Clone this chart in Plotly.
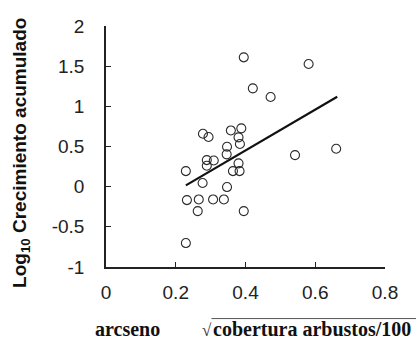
import plotly.graph_objects as go

# Data
cover_x = [0.395, 0.581, 0.421, 0.472, 0.278, 0.294, 0.358, 0.388, 0.380, 0.384,
           0.347, 0.346, 0.289, 0.309, 0.289, 0.380, 0.364, 0.383, 0.229, 0.277,
           0.347, 0.232, 0.266, 0.307, 0.338, 0.263, 0.395, 0.229, 0.660, 0.542]
growth_y = [1.61, 1.527, 1.224, 1.116, 0.659, 0.618, 0.70, 0.726, 0.614, 0.531,
            0.497, 0.402, 0.331, 0.326, 0.26, 0.29, 0.194, 0.194, 0.194, 0.045,
            -0.005, -0.167, -0.159, -0.159, -0.159, -0.304, -0.304, -0.702, 0.472, 0.393]
fit_x = [0.229, 0.663]
fit_y = [0.016, 1.12]
x_ticks = [0, 0.2, 0.4, 0.6, 0.8]
x_tick_labels = ["0", "0.2", "0.4", "0.6", "0.8"]
y_ticks = [-1, -0.5, 0, 0.5, 1, 1.5, 2]
y_tick_labels = ["-1", "-0.5", "0", "0.5", "1", "1.5", "2"]

fig = go.Figure()
fig.add_trace(go.Scatter(
    x=cover_x, y=growth_y, mode="markers",
    marker=dict(symbol="circle-open", size=9, color="#2a2a2a", line=dict(width=1.1)),
    showlegend=False, cliponaxis=False))
fig.add_trace(go.Scatter(
    x=fit_x, y=fit_y, mode="lines",
    line=dict(color="#111111", width=2.2), showlegend=False))

axis_font = dict(family="Liberation Sans, Arial", size=19, color="#222222")
fig.update_layout(
    width=416, height=340,
    margin=dict(l=106, r=31, t=26, b=73),
    paper_bgcolor="white", plot_bgcolor="white",
    xaxis=dict(range=[0, 0.8], tickvals=x_ticks, ticktext=x_tick_labels,
               showgrid=False, zeroline=False, showline=True, linecolor="#222222",
               linewidth=1.5, ticks="inside", ticklen=5, tickwidth=1.2,
               tickcolor="#222222", tickfont=axis_font, ticklabelstandoff=7),
    yaxis=dict(range=[-1, 2], tickvals=y_ticks, ticktext=y_tick_labels,
               showgrid=False, zeroline=False, showline=True, linecolor="#222222",
               linewidth=1.5, ticks="inside", ticklen=5, tickwidth=1.2,
               tickcolor="#222222", tickfont=axis_font, ticklabelstandoff=16),
)

fig.add_annotation(
    text="<b>Log<sub>10</sub> Crecimiento acumulado</b>",
    xref="paper", yref="paper", x=-0.305, y=0.473, textangle=-90,
    showarrow=False, xanchor="center", yanchor="middle",
    font=dict(family="Liberation Sans, Arial", size=19, color="#111111"))

serif_font = dict(family="Liberation Serif, Times New Roman", size=20, color="#111111")
fig.add_annotation(
    text="<b>arcseno</b>",
    xref="paper", yref="paper", x=-0.047, y=-0.258,
    showarrow=False, xanchor="left", yanchor="middle", font=serif_font)
fig.add_annotation(
    text="√",
    xref="paper", yref="paper", x=0.386, y=-0.262,
    showarrow=False, xanchor="right", yanchor="middle",
    font=dict(family="Liberation Serif, Times New Roman", size=17, color="#333333"))
fig.add_annotation(
    text="<b>cobertura arbustos/100</b>",
    xref="paper", yref="paper", x=0.378, y=-0.258,
    showarrow=False, xanchor="left", yanchor="middle", font=serif_font)

# overline of the square-root sign
fig.add_shape(type="line", xref="paper", yref="paper",
              x0=0.378, x1=1.12, y0=-0.214, y1=-0.214,
              line=dict(color="#555555", width=1))

fig.write_html("out.html")
